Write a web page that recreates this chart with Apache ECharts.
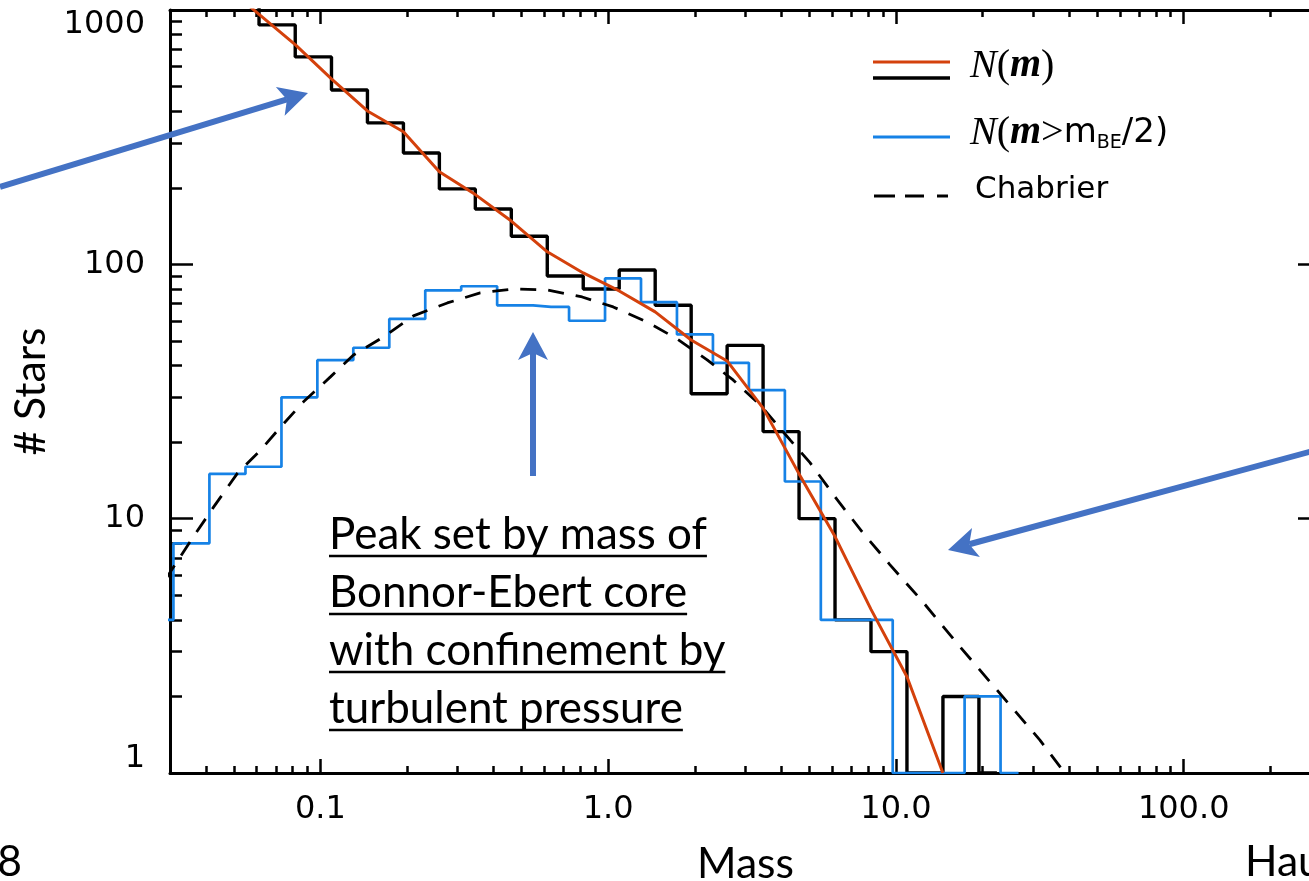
<!DOCTYPE html>
<html><head><meta charset="utf-8">
<script src="https://cdn.jsdelivr.net/npm/echarts@6/dist/echarts.min.js"></script>
<style>html,body{margin:0;padding:0;background:#fff;overflow:hidden}#c{width:1309px;height:881px}</style>
</head><body><div id="c"></div>
<script>
// ---------------- data ----------------
const X_MIN = 0.03, X_MAX = 300, Y_MIN = 1, Y_MAX = 1000;
const xTickLabels = [0.1, 1, 10, 100];
const xMinorTicks = [0.04,0.05,0.06,0.07,0.08,0.09,0.2,0.3,0.4,0.5,0.6,0.7,0.8,0.9,2,3,4,5,6,7,8,9,20,30,40,50,60,70,80,90,200];
const yTickLabels = [1, 10, 100, 1000];
const yMinorTicks = [2,3,4,5,6,7,8,9,20,30,40,50,60,70,80,90,200,300,400,500,600,700,800,900];

// N(m): all stars, bin centres (mass) and counts
const allMass  = [0.0530,0.0706,0.0946,0.1261,0.1682,0.2243,0.2990,0.3988,0.5318,0.7091,0.9456,1.261,1.682,2.243,2.990,3.988,5.318,7.091,9.456,12.61,16.82,22.43];
const allCount = [1150,874,654,485,360,274,198,165,129,90,80,95,69,31,48,22,10,4,3,0,2,0];
// N(m > m_BE/2): bin centres and counts
const subMass  = [0.0267,0.0356,0.0475,0.0634,0.0845,0.1126,0.1502,0.2003,0.2671,0.3561,0.4748,0.6331,0.8441,1.126,1.501,2.002,2.670,3.560,4.747,6.329,8.439,11.25,15.00,20.00,26.67];
const subCount = [4,8,15,16,30,42,47,61,79,82,69,68,60,88,71,53,41,32,14,4,4,0,0,2,0];
// N(m) smooth (red)
const fitMass = [0.0457,0.0609,0.0819,0.1092,0.1456,0.1942,0.2589,0.3453,0.4605,0.6141,0.819,1.092,1.456,1.942,2.589,3.453,4.605,6.141,8.19,10.92,14.56];
const fitN    = [1270,966,729,536,401,332,231,188,148,112,92.5,78.6,65,50.4,41.7,27.2,15,8.5,4.4,2.39,1.0];
// Chabrier
const chabMass = [0.029,0.0362,0.0425,0.0515,0.0619,0.0726,0.0873,0.1083,0.1302,0.1655,0.2104,0.276,0.359,0.468,0.614,0.812,1.041,1.365,1.736,2.207,2.716,3.373,4.285,5.027,6.237,7.674,9.52,12.41,16.29,22.44,31.6,38.6];
const chabN    = [5.8,8.5,11.1,15.1,18.6,22.9,28.8,36.1,44,51.8,62.7,70.5,77.2,80,79.3,74.4,68,59.3,50.9,42.1,35.1,28,20.4,16.6,11.9,8.8,6.6,4.7,3.24,2.12,1.35,1.0];

const annotationLines = ['Peak set by mass of','Bonnor-Ebert core','with confinement by','turbulent pressure'];

// ---------------- styles ----------------
const RED = '#d4410c', BLUE = '#1682e6', ARROW = '#4472c4';
const TICKFONT = 'DejaVu Sans';
const TEXTFONT = 'Lato';

function fitFont(text, family, target) {
  const c = document.createElement('canvas').getContext('2d');
  c.font = '100px ' + family;
  return 100 * target / c.measureText(text).width;
}
function measure(text, family, size) {
  const c = document.createElement('canvas').getContext('2d');
  c.font = size + 'px ' + family;
  return c.measureText(text).width;
}

const annSize = fitFont(annotationLines[0], TEXTFONT, 378);
const titleSize = fitFont('Mass', TEXTFONT, 97);

const pairs = (xs, ys) => xs.map((x, i) => [x, Math.max(ys[i], Y_MIN)]);

function arrow(x0, y0, x1, y1, w, L, H, n) {
  const dx = x1 - x0, dy = y1 - y0, len = Math.hypot(dx, dy);
  const ux = dx / len, uy = dy / len, vx = -uy, vy = ux;
  const bx = x1 - ux * L, by = y1 - uy * L;
  const nx = x1 - ux * (L - n), ny = y1 - uy * (L - n);
  return [
    {type:'line', shape:{x1:x0, y1:y0, x2:nx, y2:ny}, style:{stroke:ARROW, lineWidth:w}, z:100},
    {type:'polygon', shape:{points:[[x1,y1],[bx+vx*H,by+vy*H],[nx,ny],[bx-vx*H,by-vy*H]]}, style:{fill:ARROW}, z:100}
  ];
}

const graphics = [];
// arrows (slide annotations)
graphics.push(...arrow(0, 187, 308, 93, 6, 29, 15, 7));
graphics.push(...arrow(533, 476, 533, 332, 6, 28, 15, 7));
graphics.push(...arrow(1320, 449, 948, 550, 6, 29, 15, 7));
// annotation text with underline
const underY = [556, 614, 672, 730];
annotationLines.forEach((t, i) => {
  graphics.push({type:'text', x:329, y:underY[i] - 21, z:100,
    style:{text:t, fontFamily:TEXTFONT, fontSize:annSize, fill:'#000', verticalAlign:'middle', align:'left'}});
  const w = measure(t, TEXTFONT, annSize);
  graphics.push({type:'line', z:100, shape:{x1:329, y1:underY[i], x2:329 + w, y2:underY[i]}, style:{stroke:'#000', lineWidth:2.5}});
});
// legend
graphics.push({type:'line', shape:{x1:873,y1:62,x2:950,y2:62}, style:{stroke:RED,lineWidth:3}, z:100});
graphics.push({type:'line', shape:{x1:873,y1:78,x2:950,y2:78}, style:{stroke:'#000',lineWidth:3.5}, z:100});
graphics.push({type:'line', shape:{x1:873,y1:137,x2:950,y2:137}, style:{stroke:BLUE,lineWidth:3}, z:100});
[[874,895],[905,924],[937,948]].forEach(s => graphics.push({type:'line', shape:{x1:s[0],y1:196,x2:s[1],y2:196}, style:{stroke:'#000',lineWidth:3}, z:100}));
const mathRich = {
  n:{fontFamily:'Liberation Serif', fontStyle:'italic', fontSize:40, fill:'#000'},
  p:{fontFamily:'Liberation Serif', fontSize:40, fill:'#000'},
  m:{fontFamily:'Liberation Serif', fontStyle:'italic', fontWeight:'bold', fontSize:40, fill:'#000'},
  g:{fontFamily:TICKFONT, fontSize:34, fill:'#000'},
  s:{fontFamily:TICKFONT, fontSize:19, fill:'#000', verticalAlign:'bottom', padding:[13,0,0,0]}
};
graphics.push({type:'text', x:970, y:66, z:100, style:{text:'{n|N}{p|(}{m|m}{p|)}', rich:mathRich, verticalAlign:'middle'}});
graphics.push({type:'text', x:970, y:133, z:100, style:{text:'{n|N}{p|(}{m|m}{p|>}{g|m}{s|BE}{g|/2)}', rich:mathRich, verticalAlign:'middle'}});
graphics.push({type:'text', x:975, y:190, z:100, style:{text:'Chabrier', fontFamily:TICKFONT, fontSize:31, fill:'#000', verticalAlign:'middle'}});
// slide fragments
graphics.push({type:'text', x:22, y:862, z:100, style:{text:'8', fontFamily:TEXTFONT, fontSize:titleSize, fill:'#000', align:'right', verticalAlign:'middle'}});
graphics.push({type:'text', x:1245, y:862, z:100, style:{text:'Hau', fontFamily:TEXTFONT, fontSize:titleSize, fill:'#000', align:'left', verticalAlign:'middle'}});

const axLine = {show:true, onZero:false, lineStyle:{color:'#000', width:3}};
function xAx(pos, major, labels) {
  return {type:'log', logBase:10, min:X_MIN, max:X_MAX, position:pos, gridIndex:0,
    axisLine: major ? axLine : {show:false},
    axisTick:{show:true, inside:true, length: major ? 14 : 7, customValues: major ? xTickLabels : xMinorTicks, lineStyle:{color:'#000', width:2.5}},
    axisLabel: labels ? {show:true, customValues:xTickLabels, margin:21, fontFamily:TICKFONT, fontSize:32, color:'#000',
      formatter: v => Number(v).toFixed(1)} : {show:false},
    splitLine:{show:false}, minorTick:{show:false}};
}
function yAx(pos, major, labels) {
  return {type:'log', logBase:10, min:Y_MIN, max:Y_MAX, position:pos, gridIndex:0,
    axisLine: major ? axLine : {show:false},
    axisTick:{show:true, inside:true, length: major ? 23 : 12, customValues: major ? yTickLabels : yMinorTicks, lineStyle:{color:'#000', width:2.5}},
    axisLabel: labels ? {show:true, customValues:yTickLabels, margin:25, fontFamily:TICKFONT, fontSize:32, color:'#000',
      formatter: v => { const r = Math.round(v); if (r === 1) return '{lo|1}'; if (r === 1000) return '{hi|1000}'; return String(r); },
      rich:{lo:{fontFamily:TICKFONT, fontSize:32, color:'#000', padding:[0,0,28,0]}, hi:{fontFamily:TICKFONT, fontSize:32, color:'#000', padding:[30,0,0,0]}}} : {show:false},
    splitLine:{show:false}, minorTick:{show:false}};
}

const xAxes = [xAx('bottom', true, true), xAx('bottom', false, false), xAx('top', true, false), xAx('top', false, false)];
xAxes[0].name = 'Mass'; xAxes[0].nameLocation = 'middle'; xAxes[0].nameGap = 70;
xAxes[0].nameTextStyle = {fontFamily:TEXTFONT, fontSize:titleSize, color:'#000'};
const yAxes = [yAx('left', true, true), yAx('left', false, false), yAx('right', true, false), yAx('right', false, false)];
yAxes[0].name = '# Stars'; yAxes[0].nameLocation = 'middle'; yAxes[0].nameGap = 112;
yAxes[0].nameTextStyle = {fontFamily:TEXTFONT, fontSize:titleSize, color:'#000'};

const chart = echarts.init(document.getElementById('c'), null, {renderer:'canvas'});
chart.setOption({
  animation:false,
  backgroundColor:'#fff',
  grid:{left:170, top:10, width:1151, height:763, containLabel:false, outerBoundsMode:'none'},
  xAxis: xAxes,
  yAxis: yAxes,
  series:[
    {name:'N(m)', type:'line', step:'middle', symbol:'none', data:pairs(allMass, allCount), lineStyle:{color:'#000', width:3.4}, z:2, clip:true},
    {name:'N(m>mBE/2)', type:'line', step:'middle', symbol:'none', data:pairs(subMass, subCount), lineStyle:{color:BLUE, width:2.7}, z:3, clip:true},
    {name:'Chabrier', type:'line', symbol:'none', data:pairs(chabMass, chabN), lineStyle:{color:'#000', width:2.8, type:[16,12]}, z:4, clip:true},
    {name:'N(m) fit', type:'line', symbol:'none', data:pairs(fitMass, fitN), lineStyle:{color:RED, width:3}, z:5, clip:true}
  ],
  graphic: graphics
});
</script></body></html>
